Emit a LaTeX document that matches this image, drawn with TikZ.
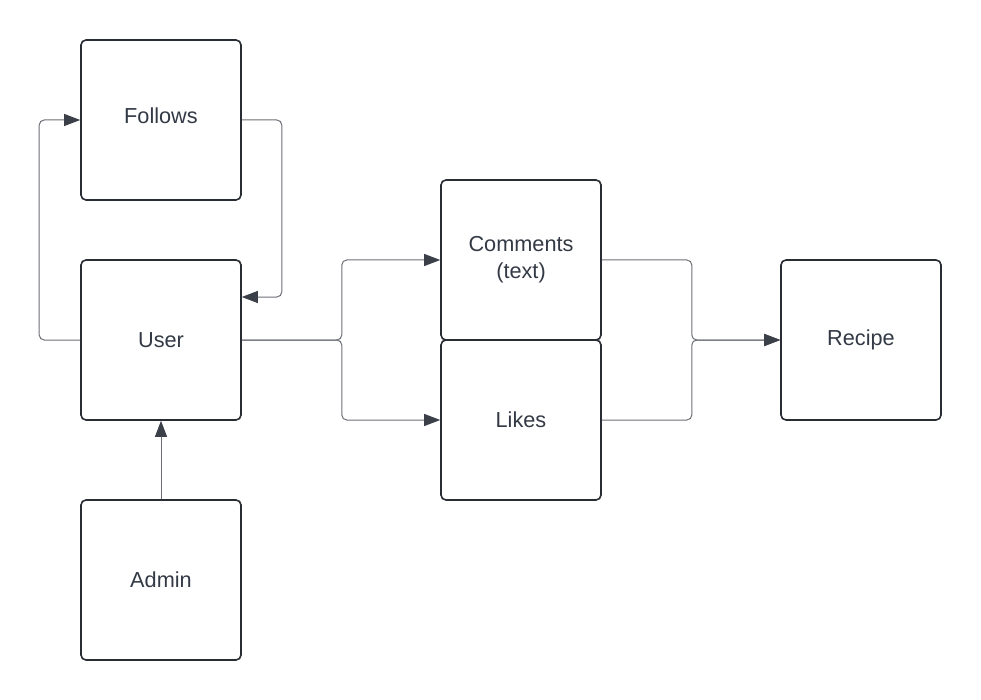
\documentclass[tikz,border=0pt]{standalone}
\usepackage{fontspec}
\setmainfont{Liberation Sans}
\usetikzlibrary{arrows.meta}
\definecolor{boxline}{HTML}{282C33}
\definecolor{conn}{HTML}{6B6E75}
\definecolor{txt}{HTML}{333A45}
\definecolor{tip}{HTML}{3A3F48}
\begin{document}
\begin{tikzpicture}[x=1pt,y=-1pt,
  ent/.style={draw=boxline,line width=1.6pt,rounded corners=5pt,minimum width=160pt,minimum height=160pt,inner sep=0pt,
    font=\fontsize{21.7pt}{27pt}\selectfont,text=txt,align=center,fill=white},
  conn/.style={draw=conn,line width=1pt,rounded corners=5pt,-{Triangle[length=16pt,width=12pt,color=tip]}}
]
\useasboundingbox (0,0) rectangle (981,700);
\node[ent] (follows) at (161,120) {Follows\\[-19pt]\mbox{}};
\node[ent] (user) at (161,340) {User};
\node[ent] (admin) at (161,580) {Admin};
\node[ent] (comments) at (521,260) {Comments\\(text)};
\node[ent] (likes) at (521,420) {Likes};
\node[ent] (recipe) at (861,340) {Recipe};
\draw[conn] (user.west) -- ++(-41,0) |- (follows.west);
\draw[conn] (follows.east) -- ++(40,0) |- ([yshift=43pt]user.east);
\draw[conn] (user.east) -- ++(100,0) |- (comments.west);
\draw[conn] (user.east) -- ++(100,0) |- (likes.west);
\draw[conn] (admin.north) -- (user.south);
\draw[conn] (comments.east) -- ++(90,0) |- (recipe.west);
\draw[conn] (likes.east) -- ++(90,0) |- (recipe.west);
\end{tikzpicture}
\end{document}
